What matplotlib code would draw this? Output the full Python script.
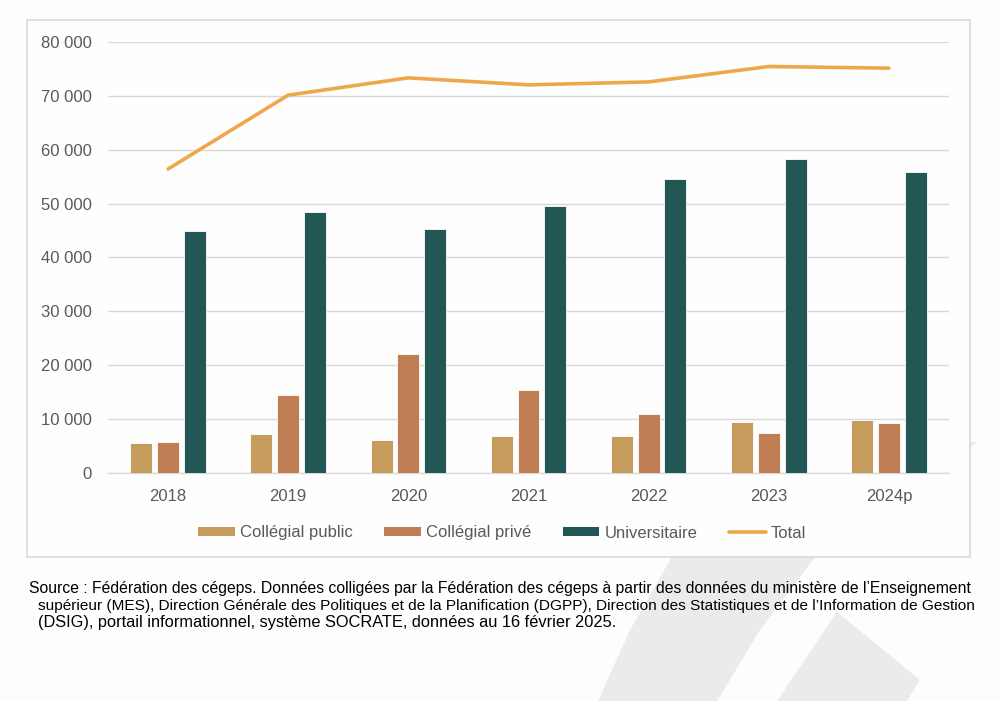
import matplotlib
matplotlib.use("Agg")
import matplotlib.pyplot as plt
from matplotlib.patches import Rectangle, Polygon
from matplotlib.lines import Line2D
from matplotlib.ticker import FuncFormatter
import numpy as np

plt.rcParams['font.family'] = ['Liberation Sans', 'DejaVu Sans']

# ---- data ----
years = ["2018", "2019", "2020", "2021", "2022", "2023", "2024p"]
collegial_public = [5560, 7230, 6120, 6910, 6910, 9570, 9940]
collegial_prive = [5800, 14450, 22170, 15500, 10930, 7470, 9320]
universitaire = [44970, 48430, 45220, 49490, 54550, 58310, 55900]
total = [56400, 70100, 73300, 72000, 72550, 75400, 75100]
series_names = ["Collégial public", "Collégial privé", "Universitaire", "Total"]
yticks = [0, 10000, 20000, 30000, 40000, 50000, 60000, 70000, 80000]
source_lines = [
    "Source : Fédération des cégeps. Données colligées par la Fédération des cégeps à partir des données du ministère de l\u2019Enseignement",
    "supérieur (MES), Direction Générale des Politiques et de la Planification (DGPP), Direction des Statistiques et de l\u2019Information de Gestion",
    "(DSIG), portail informationnel, système SOCRATE, données au 16 février 2025.",
]

# ---- style ----
c_pub = "#C69C5D"
c_priv = "#C17D53"
c_univ = "#235755"
c_tot = "#EEA84B"
c_txt = "#595959"
c_grid = "#D9D9D9"

W, H = 1000, 701
fig = plt.figure(figsize=(W / 100, H / 100), dpi=100)
fig.patch.set_facecolor("#FDFDFD")

def fx(px):
    return px / W

def fy(py):
    return 1 - py / H

# watermark shapes (decorative background)
wm = "#EBEBEB"
bandA = [(740, 450), (978, 442), (900, 490), (813, 560), (760, 630), (717, 701), (598, 701), (630, 630), (670, 560)]
bandB = [(837, 612), (920, 680), (907, 701), (777, 701)]
for poly in (bandA, bandB):
    fig.patches.append(Polygon([(fx(x), fy(y)) for x, y in poly], closed=True,
                               transform=fig.transFigure, facecolor=wm, edgecolor="none", zorder=0))

# chart box
fig.patches.append(Rectangle((fx(27), fy(557)), fx(970) - fx(27), fy(20) - fy(557),
                             transform=fig.transFigure, facecolor="#FEFEFE",
                             edgecolor=c_grid, linewidth=1.2, zorder=1))

ax = fig.add_axes([fx(108), fy(473.3), fx(949) - fx(108), fy(41.7) - fy(473.3)])
ax.set_zorder(2)
ax.patch.set_visible(False)

x = np.arange(len(years))
bw = 0.183
off = 0.223
ax.bar(x - off, collegial_public, bw, color=c_pub, edgecolor="white", linewidth=0.6, zorder=3)
ax.bar(x, collegial_prive, bw, color=c_priv, edgecolor="white", linewidth=0.6, zorder=3)
ax.bar(x + off, universitaire, bw, color=c_univ, edgecolor="white", linewidth=0.6, zorder=3)
ax.plot(x, total, color=c_tot, linewidth=2.6, solid_capstyle="round", solid_joinstyle="round", zorder=4)

ax.set_xlim(-0.5, len(years) - 0.5)
ax.set_ylim(0, 80000)
ax.set_yticks(yticks)
ax.yaxis.set_major_formatter(FuncFormatter(lambda v, p: f"{int(v):,}".replace(",", " ")))
ax.set_xticks(x)
ax.set_xticklabels(years)
ax.grid(axis="y", color=c_grid, linewidth=1.0, zorder=0)
ax.set_axisbelow(True)
for s in ["top", "right", "left"]:
    ax.spines[s].set_visible(False)
ax.spines["bottom"].set_color(c_grid)
ax.spines["bottom"].set_linewidth(1.0)
ax.tick_params(axis="both", length=0, labelsize=12, labelcolor=c_txt)
ax.tick_params(axis="y", pad=11.5)
ax.tick_params(axis="x", pad=11)

handles = [
    Rectangle((0, 0), 1, 1, facecolor=c_pub, edgecolor="none"),
    Rectangle((0, 0), 1, 1, facecolor=c_priv, edgecolor="none"),
    Rectangle((0, 0), 1, 1, facecolor=c_univ, edgecolor="none"),
    Line2D([0], [0], color=c_tot, linewidth=2.6, solid_capstyle="round"),
]
leg = fig.legend(handles, series_names, loc="center", bbox_to_anchor=(fx(502), fy(533)),
                 ncol=4, frameon=False, fontsize=12, handlelength=2.2, handleheight=0.5,
                 handletextpad=0.3, columnspacing=1.9, borderpad=0)
for t in leg.get_texts():
    t.set_color(c_txt)

# source text, justified to reference widths
targets = [(29, 970), (38, 970), (38, None)]
ys = [588, 606, 623]
texts = []
for (x0, x1), yy, line in zip(targets, ys, source_lines):
    t = fig.text(fx(x0), fy(yy), line, fontsize=11, color="#000000", ha="left", va="center", zorder=5)
    texts.append((t, x0, x1))
fig.canvas.draw()
r = fig.canvas.get_renderer()
fs_first = 11
for i, (t, x0, x1) in enumerate(texts):
    if x1 is not None:
        w = t.get_window_extent(r).width
        fs_new = 11 * (x1 - x0) / w
        t.set_fontsize(fs_new)
        if i == 0:
            fs_first = fs_new
texts[2][0].set_fontsize(fs_first * 1.04)

fig.savefig("out.png", dpi=100, facecolor=fig.get_facecolor())
